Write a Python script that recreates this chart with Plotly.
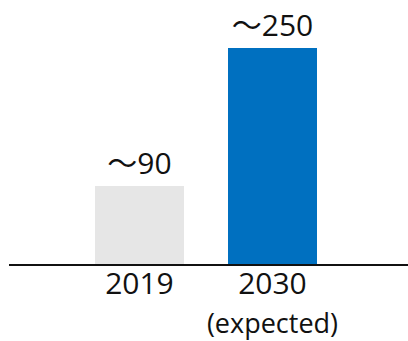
import plotly.graph_objects as go

categories = ["2019", "2030<br><span style='font-size:27px'>(expected)</span>"]
values = [90, 250]
labels = ["～90", "～250"]
colors = ["#e6e6e6", "#0070c0"]

FONT = "Open Sans, Noto Sans CJK JP, sans-serif"

fig = go.Figure(go.Bar(
    x=[0, 1], y=values,
    width=0.67,
    marker=dict(color=colors, line=dict(width=0)),
    text=labels, textposition="outside",
    textfont=dict(size=30, color="#111111", family=FONT),
    cliponaxis=False,
))

fig.update_layout(
    width=408, height=341,
    margin=dict(l=9, r=0, t=8, b=77),
    paper_bgcolor="white", plot_bgcolor="white",
    showlegend=False,
    font=dict(family=FONT, color="#111111"),
    bargap=0,
)
fig.update_xaxes(
    range=[-0.981, 2.019],
    tickmode="array", tickvals=[0, 1], ticktext=categories,
    tickfont=dict(size=30, color="#111111", family=FONT),
    ticklabelstandoff=-8,
    showline=True, linecolor="#111111", linewidth=2,
    showgrid=False, zeroline=False, ticks="",
)
fig.update_yaxes(range=[0, 296], visible=False, showgrid=False, zeroline=False)

fig.write_html("out.html", config={"displayModeBar": False},
               post_script="document.body.style.margin='0';")
